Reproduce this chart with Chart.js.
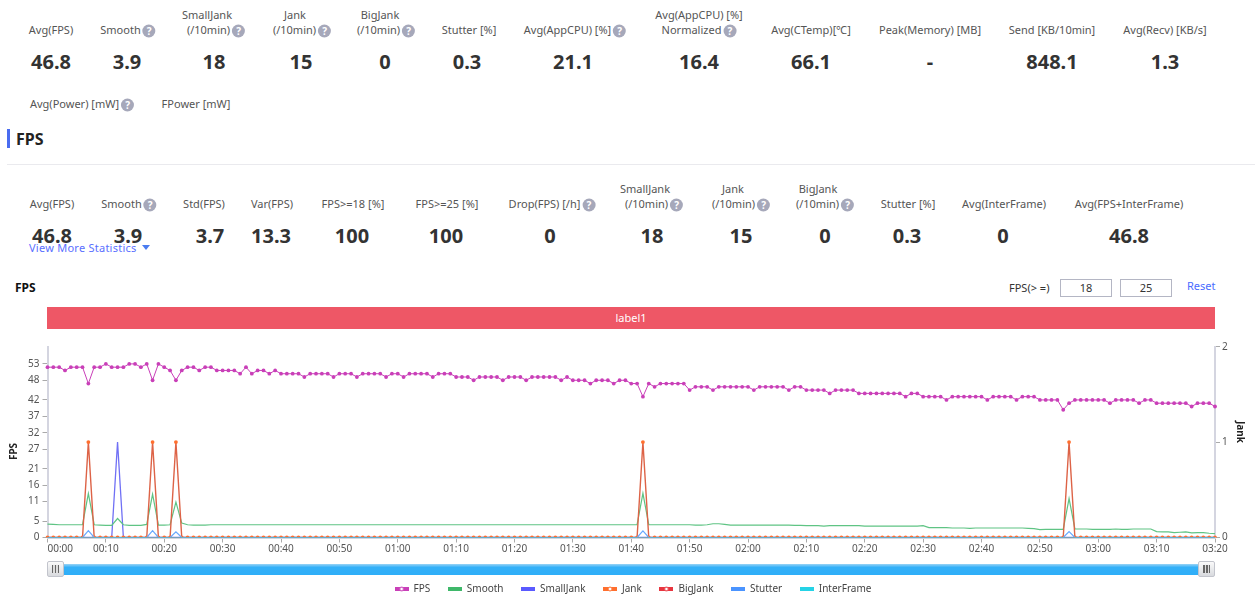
<!DOCTYPE html>
<html>
  <head>
    <title>FPS</title>
    <script src="https://cdn.jsdelivr.net/npm/chart.js"></script>
    <style>
      html, body { margin: 0; padding: 0; width: 1258px; height: 604px; overflow: hidden; background: #fff; }
      body { font-family: "Noto Sans", sans-serif; position: relative; }
      .t { position: absolute; transform: translate(-50%, -50%); white-space: nowrap; font-size: 11px; color: #555; line-height: 14px; }
      .val { font-size: 20px; font-weight: 700; color: #333; line-height: 24px; }
      .q { display: inline-block; width: 13px; height: 13px; border-radius: 50%; background: #a6a8ba; color: #fff; font-size: 10px; font-weight: 700; line-height: 13px; text-align: center; vertical-align: -1px; margin-left: 2px; }
      .abs { position: absolute; white-space: nowrap; }
      .box { position: absolute; top: 279px; width: 50px; height: 16px; border: 1px solid #b4b6c4; font-size: 11px; line-height: 16px; text-align: center; color: #333; }
      #chart { position: absolute; left: 0; top: 340px; }
      #track { position: absolute; left: 47px; top: 564px; width: 1168px; height: 11px; background: linear-gradient(#9ad4f6 0, #34b0f8 30%, #2eaef8 100%); }
      .handle { position: absolute; top: -3px; width: 17px; height: 16px; border: 1px solid #c2c4cc; border-radius: 2px; background: linear-gradient(#fafafa, #d8dade); box-sizing: border-box; }
      .handle i { position: absolute; left: 4px; top: 3px; width: 7px; height: 8px; background: repeating-linear-gradient(90deg, #666 0 1.5px, #ddd 1.5px 3px); }
    </style>
  </head>
  <body>
    <div id="page"></div>
    <canvas id="chart" width="1258" height="264"></canvas>
    <div id="track">
      <div class="handle" style="left: 0"><i></i></div>
      <div class="handle" style="right: 0"><i></i></div>
    </div>

    <script>
      // [center x, center y, text, has help icon]
      const topLabels = [
        [51, 30, "Avg(FPS)", 0], [128, 30, "Smooth", 1], [207, 15, "SmallJank", 0], [216, 30, "(/10min)", 1],
        [295, 15, "Jank", 0], [302, 30, "(/10min)", 1], [380, 15, "BigJank", 0], [386, 30, "(/10min)", 1],
        [469, 30, "Stutter [%]", 0], [575, 30, "Avg(AppCPU) [%]", 1], [699, 15, "Avg(AppCPU) [%]", 0],
        [699, 30, "Normalized", 1], [811, 30, "Avg(CTemp)[℃]", 0], [930, 30, "Peak(Memory) [MB]", 0],
        [1052, 30, "Send [KB/10min]", 0], [1165, 30, "Avg(Recv) [KB/s]", 0],
        [82, 104, "Avg(Power) [mW]", 1], [196, 104, "FPower [mW]", 0],
      ];
      const topValues = ["46.8", "3.9", "18", "15", "0", "0.3", "21.1", "16.4", "66.1", "-", "848.1", "1.3"];
      const topValueX = [51, 127, 214, 301, 385, 467, 573, 699, 811, 930, 1052, 1165];

      const fpsLabels = [
        [52, 204, "Avg(FPS)", 0], [129, 204, "Smooth", 1], [204, 204, "Std(FPS)", 0], [272, 204, "Var(FPS)", 0],
        [353, 204, "FPS>=18 [%]", 0], [447, 204, "FPS>=25 [%]", 0], [552, 204, "Drop(FPS) [/h]", 1],
        [645, 189, "SmallJank", 0], [654, 204, "(/10min)", 1], [733, 189, "Jank", 0], [741, 204, "(/10min)", 1],
        [818, 189, "BigJank", 0], [825, 204, "(/10min)", 1], [908, 204, "Stutter [%]", 0],
        [1004, 204, "Avg(InterFrame)", 0], [1129, 204, "Avg(FPS+InterFrame)", 0],
      ];
      const fpsValues = ["46.8", "3.9", "3.7", "13.3", "100", "100", "0", "18", "15", "0", "0.3", "0", "46.8"];
      const fpsValueX = [52, 128, 210, 271, 352, 446, 550, 652, 741, 825, 907, 1003, 1129];

      const seriesNames = ["FPS", "Smooth", "SmallJank", "Jank", "BigJank", "Stutter", "InterFrame"];
      const seriesColors = ["#c93fb8", "#3fb86a", "#5a5aff", "#ff6f2e", "#e8353f", "#4a94ff", "#25d3e6"];
      const fpsTicks = [0, 5, 11, 16, 21, 27, 32, 37, 42, 48, 53];

      const fps = [
        52, 52, 52, 51, 52, 52, 52, 47, 52, 52,
        53, 52, 52, 52, 53, 53, 52, 53, 48, 53,
        52, 51, 48, 51, 52, 52, 51, 52, 52, 51,
        51, 51, 51, 50, 52, 50, 51, 51, 50, 51,
        50, 50, 50, 50, 49, 50, 50, 50, 50, 49,
        50, 50, 50, 49, 50, 50, 50, 50, 49, 50,
        50, 49, 50, 50, 50, 50, 49, 50, 50, 50,
        49, 49, 49, 48, 49, 49, 49, 49, 48, 49,
        49, 49, 48, 49, 49, 49, 49, 49, 48, 49,
        48, 48, 48, 47, 48, 48, 48, 47, 48, 48,
        47, 47, 43, 47, 46, 47, 47, 47, 47, 47,
        45, 46, 46, 46, 45, 46, 46, 46, 46, 46,
        46, 45, 46, 46, 46, 46, 46, 45, 46, 46,
        45, 45, 45, 45, 44, 45, 45, 45, 45, 44,
        44, 44, 44, 44, 44, 44, 44, 43, 44, 44,
        43, 43, 43, 43, 42, 43, 43, 43, 43, 43,
        43, 42, 43, 43, 43, 43, 42, 43, 43, 43,
        42, 42, 42, 42, 39, 41, 42, 42, 42, 42,
        42, 42, 41, 42, 42, 42, 42, 41, 42, 42,
        41, 41, 41, 41, 41, 41, 40, 41, 41, 41,
        40,
      ];
      const smooth = [
        4.1, 4.0, 3.9, 3.9, 3.9, 3.9, 3.9, 13.4, 3.9, 3.8,
        3.7, 3.7, 5.8, 3.9, 3.7, 3.7, 3.7, 4.0, 13.2, 3.8,
        3.8, 3.9, 10.8, 4.4, 3.9, 3.8, 3.8, 3.8, 3.9, 3.9,
        3.9, 3.9, 3.9, 3.9, 3.9, 3.9, 3.9, 3.9, 3.9, 3.9,
        3.9, 3.9, 3.9, 3.9, 3.9, 3.9, 3.9, 3.9, 3.9, 3.9,
        3.9, 3.9, 3.9, 3.9, 3.9, 3.9, 3.9, 3.9, 3.9, 3.9,
        3.9, 3.9, 3.9, 3.9, 3.9, 3.9, 3.9, 3.9, 3.9, 3.9,
        3.9, 3.9, 3.9, 3.9, 3.9, 3.9, 3.9, 3.9, 3.9, 3.9,
        3.9, 3.9, 3.9, 3.9, 3.9, 3.9, 3.9, 3.9, 3.9, 3.9,
        3.9, 3.9, 3.9, 3.9, 3.9, 3.9, 3.9, 3.9, 3.9, 3.9,
        3.9, 3.9, 13.5, 3.9, 3.9, 3.9, 3.9, 3.9, 3.9, 3.9,
        3.9, 3.8, 3.8, 3.9, 4.2, 4.2, 4.0, 3.8, 3.8, 3.8,
        3.8, 3.8, 3.8, 3.8, 3.8, 3.8, 3.8, 3.8, 3.7, 3.7,
        3.6, 3.6, 3.6, 3.5, 3.6, 3.6, 3.6, 3.6, 3.6, 3.6,
        3.5, 3.5, 3.5, 3.5, 3.5, 3.5, 3.5, 3.5, 3.5, 3.5,
        3.6, 3.0, 3.0, 3.0, 3.0, 2.9, 2.9, 2.9, 2.8, 2.9,
        2.9, 2.9, 2.9, 2.9, 2.9, 2.9, 2.9, 2.9, 2.8, 2.7,
        2.4, 2.5, 2.5, 2.5, 2.5, 11.9, 2.6, 2.6, 2.6, 2.5,
        2.5, 2.5, 2.5, 2.6, 2.5, 2.5, 2.6, 2.6, 2.6, 2.6,
        1.8, 1.7, 1.7, 1.5, 1.6, 1.7, 1.4, 1.5, 1.5, 1.3,
        1.2,
      ];
      const smallJank = [
        0, 0, 0, 0, 0, 0, 0, 0, 0, 0,
        0, 0, 1, 0, 0, 0, 0, 0, 0, 0,
        0, 0, 0, 0, 0, 0, 0, 0, 0, 0,
        0, 0, 0, 0, 0, 0, 0, 0, 0, 0,
        0, 0, 0, 0, 0, 0, 0, 0, 0, 0,
        0, 0, 0, 0, 0, 0, 0, 0, 0, 0,
        0, 0, 0, 0, 0, 0, 0, 0, 0, 0,
        0, 0, 0, 0, 0, 0, 0, 0, 0, 0,
        0, 0, 0, 0, 0, 0, 0, 0, 0, 0,
        0, 0, 0, 0, 0, 0, 0, 0, 0, 0,
        0, 0, 0, 0, 0, 0, 0, 0, 0, 0,
        0, 0, 0, 0, 0, 0, 0, 0, 0, 0,
        0, 0, 0, 0, 0, 0, 0, 0, 0, 0,
        0, 0, 0, 0, 0, 0, 0, 0, 0, 0,
        0, 0, 0, 0, 0, 0, 0, 0, 0, 0,
        0, 0, 0, 0, 0, 0, 0, 0, 0, 0,
        0, 0, 0, 0, 0, 0, 0, 0, 0, 0,
        0, 0, 0, 0, 0, 0, 0, 0, 0, 0,
        0, 0, 0, 0, 0, 0, 0, 0, 0, 0,
        0, 0, 0, 0, 0, 0, 0, 0, 0, 0,
        0,
      ];
      const jank = [
        0, 0, 0, 0, 0, 0, 0, 1, 0, 0,
        0, 0, 0, 0, 0, 0, 0, 0, 1, 0,
        0, 0, 1, 0, 0, 0, 0, 0, 0, 0,
        0, 0, 0, 0, 0, 0, 0, 0, 0, 0,
        0, 0, 0, 0, 0, 0, 0, 0, 0, 0,
        0, 0, 0, 0, 0, 0, 0, 0, 0, 0,
        0, 0, 0, 0, 0, 0, 0, 0, 0, 0,
        0, 0, 0, 0, 0, 0, 0, 0, 0, 0,
        0, 0, 0, 0, 0, 0, 0, 0, 0, 0,
        0, 0, 0, 0, 0, 0, 0, 0, 0, 0,
        0, 0, 1, 0, 0, 0, 0, 0, 0, 0,
        0, 0, 0, 0, 0, 0, 0, 0, 0, 0,
        0, 0, 0, 0, 0, 0, 0, 0, 0, 0,
        0, 0, 0, 0, 0, 0, 0, 0, 0, 0,
        0, 0, 0, 0, 0, 0, 0, 0, 0, 0,
        0, 0, 0, 0, 0, 0, 0, 0, 0, 0,
        0, 0, 0, 0, 0, 0, 0, 0, 0, 0,
        0, 0, 0, 0, 0, 1, 0, 0, 0, 0,
        0, 0, 0, 0, 0, 0, 0, 0, 0, 0,
        0, 0, 0, 0, 0, 0, 0, 0, 0, 0,
        0,
      ];
      const bigJank = [
        0, 0, 0, 0, 0, 0, 0, 0, 0, 0,
        0, 0, 0, 0, 0, 0, 0, 0, 0, 0,
        0, 0, 0, 0, 0, 0, 0, 0, 0, 0,
        0, 0, 0, 0, 0, 0, 0, 0, 0, 0,
        0, 0, 0, 0, 0, 0, 0, 0, 0, 0,
        0, 0, 0, 0, 0, 0, 0, 0, 0, 0,
        0, 0, 0, 0, 0, 0, 0, 0, 0, 0,
        0, 0, 0, 0, 0, 0, 0, 0, 0, 0,
        0, 0, 0, 0, 0, 0, 0, 0, 0, 0,
        0, 0, 0, 0, 0, 0, 0, 0, 0, 0,
        0, 0, 0, 0, 0, 0, 0, 0, 0, 0,
        0, 0, 0, 0, 0, 0, 0, 0, 0, 0,
        0, 0, 0, 0, 0, 0, 0, 0, 0, 0,
        0, 0, 0, 0, 0, 0, 0, 0, 0, 0,
        0, 0, 0, 0, 0, 0, 0, 0, 0, 0,
        0, 0, 0, 0, 0, 0, 0, 0, 0, 0,
        0, 0, 0, 0, 0, 0, 0, 0, 0, 0,
        0, 0, 0, 0, 0, 0, 0, 0, 0, 0,
        0, 0, 0, 0, 0, 0, 0, 0, 0, 0,
        0, 0, 0, 0, 0, 0, 0, 0, 0, 0,
        0,
      ];
      const stutter = [
        0, 0, 0, 0, 0, 0, 0, 2.1, 0, 0,
        0, 0, 0, 0, 0, 0, 0, 0, 2.1, 0,
        0, 0, 1.7, 0, 0, 0, 0, 0, 0, 0,
        0, 0, 0, 0, 0, 0, 0, 0, 0, 0,
        0, 0, 0, 0, 0, 0, 0, 0, 0, 0,
        0, 0, 0, 0, 0, 0, 0, 0, 0, 0,
        0, 0, 0, 0, 0, 0, 0, 0, 0, 0,
        0, 0, 0, 0, 0, 0, 0, 0, 0, 0,
        0, 0, 0, 0, 0, 0, 0, 0, 0, 0,
        0, 0, 0, 0, 0, 0, 0, 0, 0, 0,
        0, 0, 2.0, 0, 0, 0, 0, 0, 0, 0,
        0, 0, 0, 0, 0, 0, 0, 0, 0, 0,
        0, 0, 0, 0, 0, 0, 0, 0, 0, 0,
        0, 0, 0, 0, 0, 0, 0, 0, 0, 0,
        0, 0, 0, 0, 0, 0, 0, 0, 0, 0,
        0, 0, 0, 0, 0, 0, 0, 0, 0, 0,
        0, 0, 0, 0, 0, 0, 0, 0, 0, 0,
        0, 0, 0, 0, 0, 1.8, 0, 0, 0, 0,
        0, 0, 0, 0, 0, 0, 0, 0, 0, 0,
        0, 0, 0, 0, 0, 0, 0, 0, 0, 0,
        0,
      ];
      const interFrame = [
        0, 0, 0, 0, 0, 0, 0, 0, 0, 0,
        0, 0, 0, 0, 0, 0, 0, 0, 0, 0,
        0, 0, 0, 0, 0, 0, 0, 0, 0, 0,
        0, 0, 0, 0, 0, 0, 0, 0, 0, 0,
        0, 0, 0, 0, 0, 0, 0, 0, 0, 0,
        0, 0, 0, 0, 0, 0, 0, 0, 0, 0,
        0, 0, 0, 0, 0, 0, 0, 0, 0, 0,
        0, 0, 0, 0, 0, 0, 0, 0, 0, 0,
        0, 0, 0, 0, 0, 0, 0, 0, 0, 0,
        0, 0, 0, 0, 0, 0, 0, 0, 0, 0,
        0, 0, 0, 0, 0, 0, 0, 0, 0, 0,
        0, 0, 0, 0, 0, 0, 0, 0, 0, 0,
        0, 0, 0, 0, 0, 0, 0, 0, 0, 0,
        0, 0, 0, 0, 0, 0, 0, 0, 0, 0,
        0, 0, 0, 0, 0, 0, 0, 0, 0, 0,
        0, 0, 0, 0, 0, 0, 0, 0, 0, 0,
        0, 0, 0, 0, 0, 0, 0, 0, 0, 0,
        0, 0, 0, 0, 0, 0, 0, 0, 0, 0,
        0, 0, 0, 0, 0, 0, 0, 0, 0, 0,
        0, 0, 0, 0, 0, 0, 0, 0, 0, 0,
        0,
      ];

      const timeLabels = fps.map((_, i) => {
        const m = String(Math.floor(i / 60)).padStart(2, "0");
        const s = String(i % 60).padStart(2, "0");
        return m + ":" + s;
      });

      // page furniture around the chart
      const page = document.getElementById("page");
      function addText(cx, cy, text, help, cls) {
        const el = document.createElement("div");
        el.className = "t" + (cls ? " " + cls : "");
        el.style.left = cx + "px";
        el.style.top = cy + "px";
        el.textContent = text;
        if (help) {
          const q = document.createElement("span");
          q.className = "q";
          q.textContent = "?";
          el.appendChild(q);
        }
        page.appendChild(el);
      }
      function addAbs(style, text) {
        const el = document.createElement("div");
        el.className = "abs";
        el.style.cssText = style;
        el.textContent = text || "";
        page.appendChild(el);
      }
      topLabels.forEach((l) => addText(l[0], l[1], l[2], l[3]));
      topValues.forEach((v, i) => addText(topValueX[i], 62, v, 0, "val"));
      fpsLabels.forEach((l) => addText(l[0], l[1], l[2], l[3]));
      fpsValues.forEach((v, i) => addText(fpsValueX[i], 236, v, 0, "val"));

      addAbs("left:7px;top:129px;width:3px;height:19px;background:#4a6cf0");
      addAbs("left:16px;top:128px;font-size:16px;font-weight:700;color:#222;line-height:22px", "FPS");
      addAbs("left:7px;top:164px;width:1248px;height:1px;background:#eaeaee");
      addAbs("left:29px;top:241px;font-size:11px;letter-spacing:.25px;color:#5a6fff;line-height:14px", "View More Statistics");
      addAbs("left:142px;top:245px;width:0;height:0;border-left:4px solid transparent;border-right:4px solid transparent;border-top:5px solid #4a7cf0");
      addAbs("left:15px;top:280px;font-size:12px;font-weight:700;color:#111;line-height:16px", "FPS");
      addAbs("left:1009px;top:281px;font-size:11px;color:#333;line-height:14px", "FPS(> =)");
      addAbs("left:1187px;top:279px;font-size:11px;color:#4a6cff;line-height:14px", "Reset");
      addAbs("left:47px;top:307px;width:1168px;height:22px;background:#ee5766;color:#fff;font-size:11px;line-height:21px;text-align:center", "label1");
      ["18", "25"].forEach((v, i) => {
        const el = document.createElement("div");
        el.className = "box";
        el.style.left = 1060 + i * 60 + "px";
        el.textContent = v;
        page.appendChild(el);
      });

      // legend swatches, the marker ones get a little circle in the middle
      function legendIcon(color, marker) {
        const c = document.createElement("canvas");
        c.width = 14;
        c.height = 8;
        const ctx = c.getContext("2d");
        ctx.fillStyle = color;
        ctx.fillRect(0, 2, 14, 4);
        if (marker) {
          ctx.beginPath();
          ctx.arc(7, 4, 2, 0, Math.PI * 2);
          ctx.fillStyle = "#fff";
          ctx.fill();
          ctx.lineWidth = 1;
          ctx.strokeStyle = color;
          ctx.stroke();
        }
        return c;
      }
      const hasMarker = [true, false, false, true, true, false, false];
      const icons = seriesColors.map((c, i) => legendIcon(c, hasMarker[i]));

      const seriesData = [fps, smooth, smallJank, jank, bigJank, stutter, interFrame];
      const seriesAxis = ["y", "y", "y1", "y1", "y1", "y", "y1"];
      // lower order is drawn on top: the zero line stays blue over the Jank dots
      const seriesOrder = [1, 6, 7, 4, 5, 3, 2];
      const lineColors = ["#c93fb8", "#5fc484", "#7070f5", "#dd6347", "#e8353f", "#6aa8ff", "#25d3e6"];
      const lineWidths = [1, 1.2, 1.3, 1.4, 1, 1.2, 1];
      const markerSizes = [1.9, 0, 0, 1.9, 0, 0, 0];
      const datasets = seriesNames.map((name, i) => ({
        label: name,
        data: seriesData[i],
        yAxisID: seriesAxis[i],
        order: seriesOrder[i],
        borderColor: lineColors[i],
        backgroundColor: seriesColors[i],
        borderWidth: lineWidths[i],
        pointRadius: markerSizes[i],
        pointBackgroundColor: seriesColors[i],
        pointBorderWidth: 0,
        tension: 0,
      }));

      // the first x label starts at the axis instead of centering on it,
      // axis names sit a bit off center
      const axisTweaks = {
        id: "axisTweaks",
        beforeDraw(chart) {
          const first = chart.scales.x.getLabelItems(chart.chartArea)[0];
          first.options.textAlign = "left";
        },
        afterDraw(chart) {
          const ctx = chart.ctx;
          ctx.save();
          ctx.font = "700 10px 'Noto Sans'";
          ctx.fillStyle = "#222";
          ctx.textAlign = "center";
          ctx.textBaseline = "middle";
          ctx.translate(14, 111.5);
          ctx.rotate(-Math.PI / 2);
          ctx.fillText("FPS", 0, 0);
          ctx.restore();
          ctx.save();
          ctx.font = "700 10px 'Noto Sans'";
          ctx.fillStyle = "#222";
          ctx.textAlign = "center";
          ctx.textBaseline = "middle";
          ctx.translate(1240, 92);
          ctx.rotate(Math.PI / 2);
          ctx.fillText("Jank", 0, 0);
          ctx.restore();
        },
      };

      const axisColor = "#d4d5e0";
      new Chart(document.getElementById("chart"), {
        type: "line",
        data: { labels: timeLabels, datasets },
        plugins: [axisTweaks],
        options: {
          responsive: false,
          animation: false,
          layout: { padding: { top: 6.7, left: 8 } },
          plugins: {
            tooltip: { enabled: false },
            legend: {
              position: "bottom",
              labels: {
                usePointStyle: true,
                pointStyleWidth: 14,
                padding: 17.5,
                color: "#444",
                font: { family: "'Noto Sans'", size: 10 },
                // keep series order, the draw order above would shuffle it
                sort: (a, b) => a.datasetIndex - b.datasetIndex,
                generateLabels(chart) {
                  const items = Chart.defaults.plugins.legend.labels.generateLabels(chart);
                  items.forEach((it) => (it.pointStyle = icons[it.datasetIndex]));
                  return items;
                },
              },
            },
          },
          scales: {
            x: {
              type: "category",
              offset: false,
              grid: { drawOnChartArea: false, tickLength: 5, tickColor: "#aaa" },
              border: { color: axisColor, width: 2 },
              ticks: {
                autoSkip: false,
                maxRotation: 0,
                padding: 1,
                color: "#555",
                font: { family: "'Noto Sans'", size: 10 },
                callback(value) {
                  return this.getLabelForValue(value);
                },
              },
              afterBuildTicks(s) {
                s.ticks = s.ticks.filter((t) => t.value % 10 === 0);
              },
              afterFit(s) {
                s.height = 29;
              },
            },
            y: {
              position: "left",
              min: 0,
              max: 58.25,
              grid: { drawOnChartArea: false, tickLength: 5, tickColor: "#aaa" },
              border: { color: axisColor, width: 2 },
              ticks: { padding: 3, color: "#555", font: { family: "'Noto Sans'", size: 10 } },
              afterBuildTicks(s) {
                s.ticks = fpsTicks.map((v) => ({ value: v }));
              },
              afterFit(s) {
                s.width = 39.5;
                s.paddingTop = 0;
                s.paddingBottom = 0;
              },
            },
            y1: {
              position: "right",
              min: 0,
              max: 2,
              grid: { drawOnChartArea: false, tickLength: 5, tickColor: "#aaa" },
              border: { color: axisColor, width: 2 },
              ticks: { stepSize: 1, padding: 2, color: "#555", font: { family: "'Noto Sans'", size: 10 } },
              afterFit(s) {
                s.width = 43;
                s.paddingTop = 0;
                s.paddingBottom = 0;
              },
            },
          },
        },
      });
    </script>
  </body>
</html>
